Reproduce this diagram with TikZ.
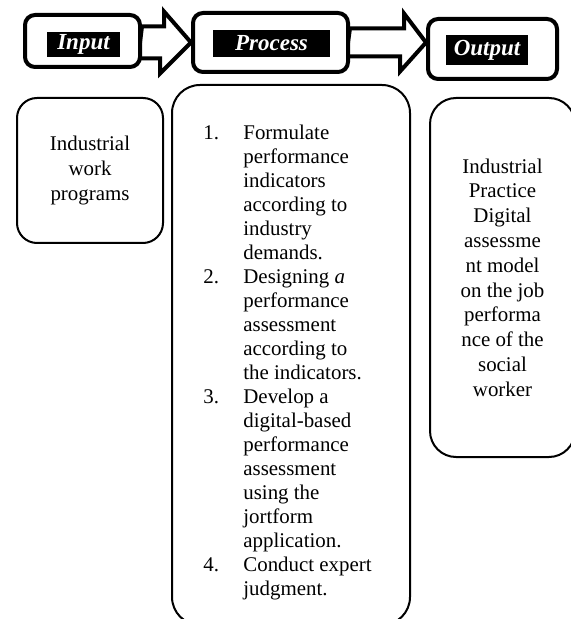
\documentclass[tikz,border=0pt]{standalone}
\usepackage{fontspec}
\setmainfont{Liberation Serif}
\usetikzlibrary{backgrounds}

\begin{document}
\begin{tikzpicture}[
  x=0.5pt, y=-0.5pt,
  every node/.style = {inner sep=0pt},
  stage/.style = {draw=black, line width=2pt, rounded corners=5pt, fill=white},
  tag/.style = {fill=black, text=white, font=\fontsize{11.5}{13}\selectfont\bfseries\itshape},
  content/.style = {draw=black, line width=1pt, fill=white, align=center,
    font=\fontsize{10.45}{12.4}\selectfont},
  blockarrow/.style = {draw=black, line width=2pt, fill=white, line join=miter}
]
\useasboundingbox (0,0) rectangle (570,619);

% Stage headers (top row)
\node[stage, minimum width=57.5pt, minimum height=26pt] (intop) at (82.5,41) {};
\node[stage, minimum width=77.5pt, minimum height=29.5pt] (prtop) at (270.5,42.5) {};
\node[stage, minimum width=64.5pt, minimum height=30pt] (outtop) at (492.5,49) {};

\node[tag, minimum width=36.5pt, minimum height=12.5pt] (intag) at (83.5,44.5) {Input};
\node[tag, minimum width=58.5pt, minimum height=13.5pt] (prtag) at (271.5,43.5) {Process};
\node[tag, minimum width=41pt, minimum height=15pt] (outtag) at (487,50) {Output};

% Block arrows between the stages
\begin{scope}[on background layer]
\draw[blockarrow] (intop.east |- prtop.west) ++(0,-16) -- ++(22,0) -- ++(0,-15)
  -- (prtop.west) -- ++(-31,31) -- ++(0,-15) -- ++(-22,0) -- cycle;
\draw[blockarrow] (prtop.east) ++(0,-14) -- ++(54,0) -- ++(0,-15)
  -- (outtop.west |- prtop.east) -- ++(-26,29) -- ++(0,-15) -- ++(-54,0) -- cycle;
\end{scope}

% Stage contents
\node[content, rounded corners=10pt, minimum width=73pt, minimum height=72.5pt]
  (inbox) at (90,170.5) {Industrial\\work\\programs};

\node[content, rounded corners=14pt, minimum width=119pt, minimum height=270pt]
  (prbox) at (291,355) {};
\node[anchor=north west, font=\fontsize{10.45}{12}\selectfont] (prlist) at (203,122.2) {%
  \begin{tabular}[t]{@{}p{20pt}@{}l@{}}
  1. & Formulate\\
     & performance\\
     & indicators\\
     & according to\\
     & industry\\
     & demands.\\
  2. & Designing \textit{a}\\
     & performance\\
     & assessment\\
     & according to\\
     & the indicators.\\
  3. & Develop a\\
     & digital-based\\
     & performance\\
     & assessment\\
     & using the\\
     & jortform\\
     & application.\\
  4. & Conduct expert\\
     & judgment.
  \end{tabular}};

\node[content, rounded corners=13pt, minimum width=72.5pt, minimum height=179.5pt]
  (outbox) at (502.5,277.5) {Industrial\\Practice\\Digital\\assessme\\nt model\\on the job\\performa\\nce of the\\social\\worker};

\end{tikzpicture}
\end{document}
